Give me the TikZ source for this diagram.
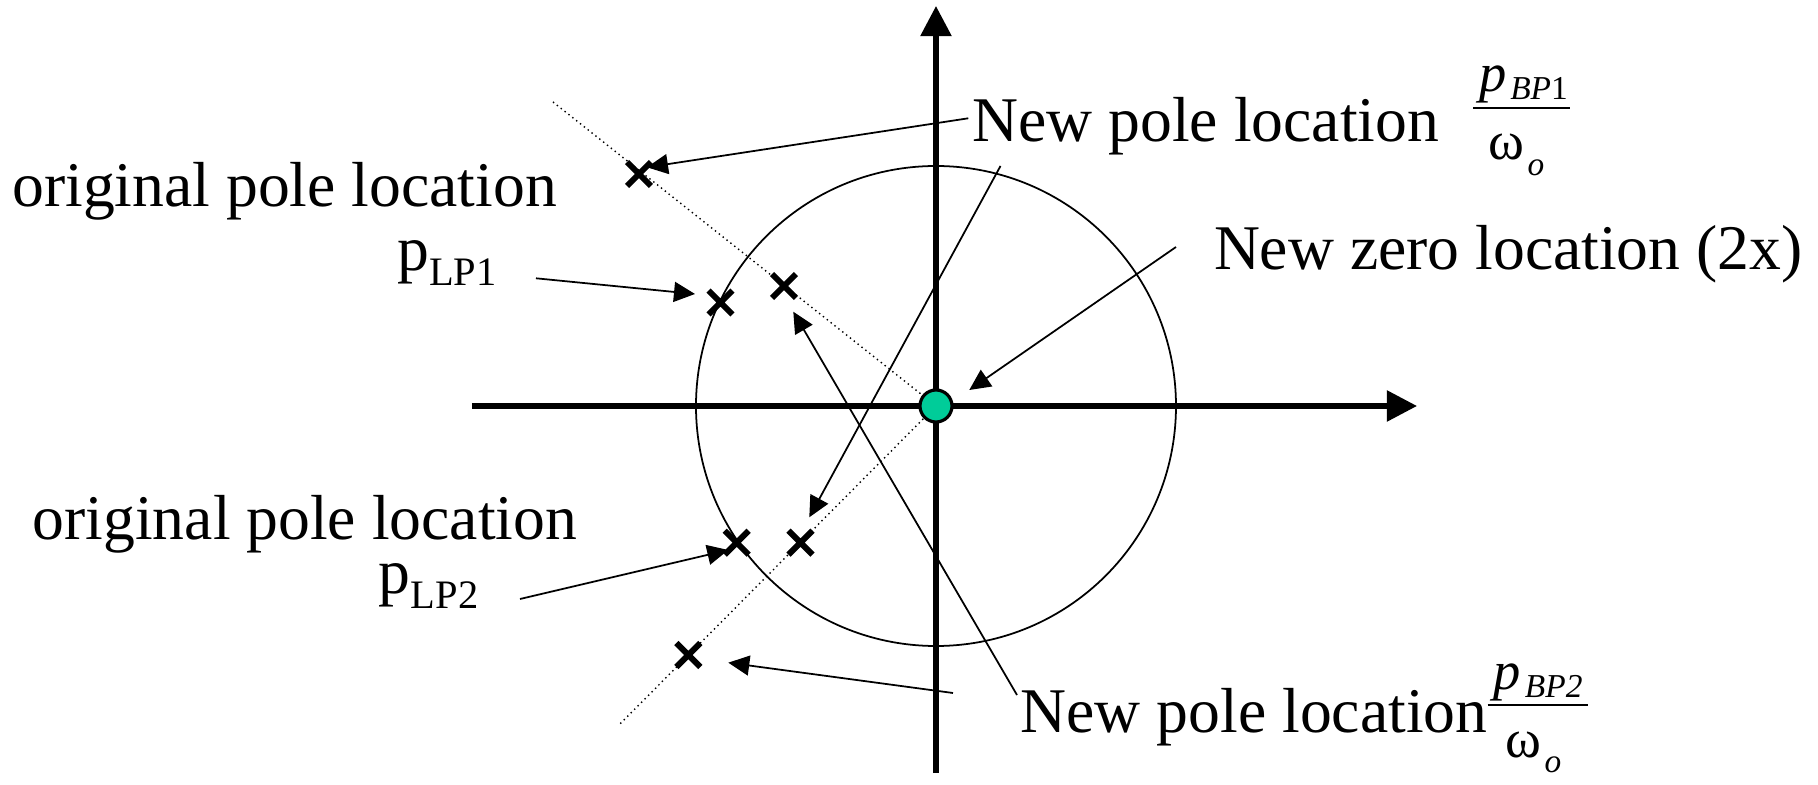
\documentclass[tikz,border=0pt]{standalone}
\usepackage{fontspec}
\setmainfont{Liberation Serif}
\usetikzlibrary{arrows.meta,shapes.misc}
\definecolor{zerogreen}{RGB}{0,204,153}
\newcommand{\lowsub}[2]{\raisebox{-#1}{\fontsize{11.5}{13}\selectfont #2}}
\newcommand{\fracsub}[2]{\raisebox{-#1}{\fontsize{9.5}{11}\selectfont #2}}

\begin{document}
\begin{tikzpicture}[x=0.01cm,y=0.01cm,
    axis/.style={line width=1.5pt,-{Triangle[length=3mm,width=3mm]}},
    pointer/.style={line width=0.5pt,-{Triangle[length=2.1mm,width=2mm]}},
    pole/.style={cross out,draw,line width=1.7pt,minimum size=1.8mm,inner sep=0pt},
    zero/.style={circle,draw,line width=0.9pt,fill=zerogreen,minimum size=3.2mm,inner sep=0pt},
    lbl/.style={anchor=base west,inner sep=0pt,font=\fontsize{18.1}{21}\selectfont},
    fracpart/.style={anchor=base west,inner sep=0pt,font=\fontsize{15.5}{17}\selectfont}]
    \useasboundingbox (-936,-379) rectangle (882,406);

    \coordinate (O) at (0,0);
    % pole positions
    \coordinate (P1) at (-297,232);     % new pole, upper
    \coordinate (P2) at (-152,120);
    \coordinate (L1) at (-215.5,103.5); % original pole, upper
    \coordinate (L2) at (-199.3,-136.7);% original pole, lower
    \coordinate (P3) at (-135.5,-136.7);
    \coordinate (P4) at (-247.7,-249);  % new pole, lower
    \coordinate (D1) at (-383,304);
    \coordinate (D2) at (-316,-318);

    % unit circle and dotted rays
    \draw[line width=0.5pt] (O) circle (240);
    \draw[line width=0.4pt,densely dotted] (D1) -- (O) -- (D2);

    % axes
    \draw[axis] (-464,0) -- (481,0);
    \draw[axis] (0,-367) -- (0,400);

    \node[zero] (Z) at (O) {};
    \foreach \p in {P1,P2,L1,L2,P3,P4}
        \node[pole] at (\p) {};

    % labels
    \node[lbl] (orig1) at (-924.3,199.3) {original pole location};
    \node[lbl] (lp1) at (-539.3,135) {p\lowsub{0.14cm}{LP1}};
    \node[lbl] (orig2) at (-904,-134) {original pole location};
    \node[lbl] (lp2) at (-557.7,-188) {p\lowsub{0.14cm}{LP2}};
    \node[lbl] (new1) at (35.7,264.3) {New pole location};
    \node[lbl] (newz) at (277.3,136) {New zero location (2x)};
    \node[lbl] (new2) at (84,-327) {New pole location};

    % fractions p/omega
    \node[fracpart] (num1) at (542.3,314.3) {\itshape p\kern0.04cm\fracsub{0.08cm}{BP\upshape 1}};
    \draw[line width=0.6pt] (537,298.3) -- (634,298.3);
    \node[fracpart] (den1) at (552,246) {ω\kern0.03cm\fracsub{0.15cm}{\itshape o}};
    \node[fracpart] (num2) at (557,-283) {\itshape p\kern0.04cm\fracsub{0.08cm}{BP2}};
    \draw[line width=0.6pt] (551.5,-299) -- (652.4,-299);
    \node[fracpart] (den2) at (569,-351) {ω\kern0.03cm\fracsub{0.15cm}{\itshape o}};

    % pointers
    \coordinate (a1) at (32.3,287.7);  \coordinate (t1) at (-289,238.7);
    \coordinate (a2) at (-400,127.7);  \coordinate (t2) at (-241,112);
    \coordinate (a3) at (-416,-193);   \coordinate (t3) at (-207.7,-144);
    \coordinate (a4) at (240,159);     \coordinate (t4) at (33.3,16);
    \coordinate (a5) at (64.5,240);    \coordinate (t5) at (-126.7,-111.3);
    \coordinate (a6) at (81,-289);     \coordinate (t6) at (-142.7,94.3);
    \coordinate (a7) at (17,-287);     \coordinate (t7) at (-207.7,-256.7);
    \foreach \i in {1,...,7}
        \draw[pointer] (a\i) -- (t\i);

\end{tikzpicture}
\end{document}
